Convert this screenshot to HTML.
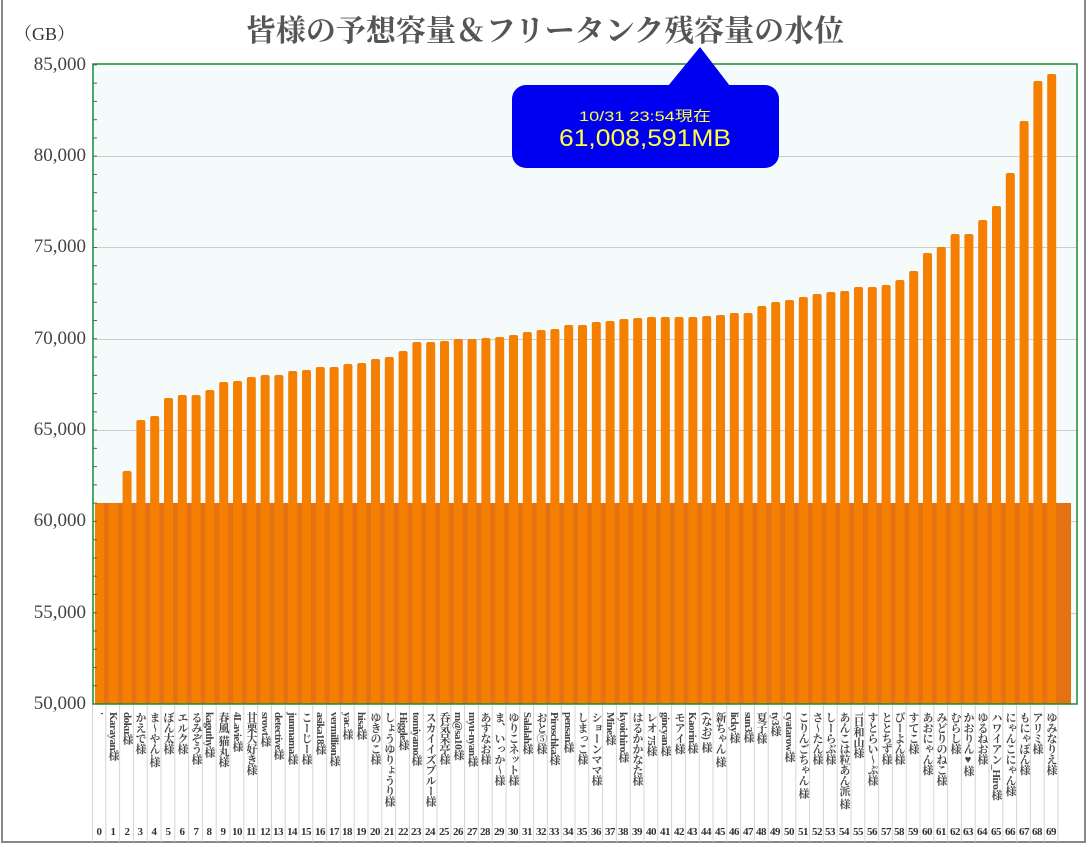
<!DOCTYPE html>
<html><head><meta charset="utf-8">
<style>
html,body{margin:0;padding:0;background:#fff;}
body{width:1090px;height:847px;position:relative;overflow:hidden;font-family:"Liberation Serif","Noto Serif CJK JP",serif;}
.frame{position:absolute;left:1px;top:-2px;width:1085px;height:845px;border:2px solid #888;box-sizing:border-box;}
.title{position:absolute;left:0;width:1090px;top:6px;text-align:center;font-size:30px;font-weight:bold;color:#555;font-family:"Liberation Serif","Noto Serif CJK JP",serif;}
.gb{position:absolute;left:14px;top:20px;font-size:18px;color:#333;}
.yl{position:absolute;right:1004px;font-size:19px;color:#444;line-height:18px;}
.lab{position:absolute;top:712px;width:14px;writing-mode:vertical-rl;text-orientation:mixed;font-size:11px;font-weight:bold;color:#444;line-height:14px;white-space:nowrap;letter-spacing:-0.5px;}
.num{position:absolute;top:826px;width:14px;text-align:center;font-size:11px;font-weight:bold;color:#333;letter-spacing:-0.5px;}
</style></head><body>
<div class="frame"></div>
<div class="title">皆様の予想容量＆フリータンク残容量の水位</div>
<div class="gb">（GB）</div>
<div class="yl" style="top:56px">85,000</div>
<div class="yl" style="top:147px">80,000</div>
<div class="yl" style="top:238px">75,000</div>
<div class="yl" style="top:330px">70,000</div>
<div class="yl" style="top:421px">65,000</div>
<div class="yl" style="top:512px">60,000</div>
<div class="yl" style="top:604px">55,000</div>
<div class="yl" style="top:695px">50,000</div>
<svg id="s" width="1090" height="847" style="position:absolute;left:0;top:0">
<rect x="93" y="64" width="984" height="640" fill="#f5fbfb"/>
<g stroke="#ccc" stroke-width="1">
<line x1="93" x2="1077" y1="156.5" y2="156.5"/><line x1="93" x2="1077" y1="247.5" y2="247.5"/>
<line x1="93" x2="1077" y1="339.5" y2="339.5"/><line x1="93" x2="1077" y1="430.5" y2="430.5"/>
<line x1="93" x2="1077" y1="521.5" y2="521.5"/><line x1="93" x2="1077" y1="613.5" y2="613.5"/>
</g>
<rect x="97" y="503" width="974" height="201" fill="#e47212"/>
<g id="bars" fill="#f57f00"></g>
<g id="seps" stroke="#d4d4d4" stroke-width="1"></g>
<rect x="93" y="64" width="984" height="640" fill="none" stroke="#1a8a3a" stroke-width="1.5"/>
<g id="ticks" stroke="#1a8a3a" stroke-width="1"></g>
<path d="M668 86 L700 47 L730 86 Z" fill="#0000f0"/>
<rect x="512" y="85" width="267" height="83" rx="14" fill="#0000f0"/>
<text x="645" y="121" text-anchor="middle" fill="#ffff40" font-family="Liberation Sans,Noto Sans CJK JP,sans-serif" font-size="14" textLength="132" lengthAdjust="spacingAndGlyphs">10/31 23:54現在</text>
<text x="645" y="146" text-anchor="middle" fill="#ffff40" font-family="Liberation Sans,sans-serif" font-size="24" textLength="172" lengthAdjust="spacingAndGlyphs">61,008,591MB</text>
</svg>
<div id="labs">
<div class="lab" style="left:92px">'</div>
<div class="lab" style="left:106px">Karayan様</div>
<div class="lab" style="left:120px">doku様</div>
<div class="lab" style="left:133px">かえで様</div>
<div class="lab" style="left:147px">ま～やん.様</div>
<div class="lab" style="left:161px">ぼん太様</div>
<div class="lab" style="left:175px">エルク様</div>
<div class="lab" style="left:189px">るみぞう様</div>
<div class="lab" style="left:202px">kaguthy様</div>
<div class="lab" style="left:216px">春風 猫丸様</div>
<div class="lab" style="left:230px">4Lavie様</div>
<div class="lab" style="left:244px">甘栗大好き様</div>
<div class="lab" style="left:258px">srowt様</div>
<div class="lab" style="left:271px">detective様</div>
<div class="lab" style="left:285px">junmama様</div>
<div class="lab" style="left:299px">こーじー様</div>
<div class="lab" style="left:313px">asika18様</div>
<div class="lab" style="left:327px">vermillion様</div>
<div class="lab" style="left:340px">yac.様</div>
<div class="lab" style="left:354px">hisa様</div>
<div class="lab" style="left:368px">ゆきのこ様</div>
<div class="lab" style="left:382px">しょうゆりょうり様</div>
<div class="lab" style="left:396px">Higgle様</div>
<div class="lab" style="left:409px">tomiyamo様</div>
<div class="lab" style="left:423px">スカイイズブルー様</div>
<div class="lab" style="left:437px">呑気呆亭様</div>
<div class="lab" style="left:451px">m@sa10様</div>
<div class="lab" style="left:465px">myu-nyan様</div>
<div class="lab" style="left:478px">あすなお様</div>
<div class="lab" style="left:492px">ま、いっか～様</div>
<div class="lab" style="left:506px">ゆりこネット様</div>
<div class="lab" style="left:520px">Salalah様</div>
<div class="lab" style="left:534px">おと⑤様</div>
<div class="lab" style="left:547px">Piroschka様</div>
<div class="lab" style="left:561px">pensan様</div>
<div class="lab" style="left:575px">しまっこ様</div>
<div class="lab" style="left:589px">ショーンママ様</div>
<div class="lab" style="left:603px">Mine様</div>
<div class="lab" style="left:616px">kyoichiro様</div>
<div class="lab" style="left:630px">はるかかなた様</div>
<div class="lab" style="left:644px">レオ 75様</div>
<div class="lab" style="left:658px">gincyan様</div>
<div class="lab" style="left:672px">モアイ様</div>
<div class="lab" style="left:685px">Kaorin様</div>
<div class="lab" style="left:699px">(なお) 様</div>
<div class="lab" style="left:713px">新ちゃん 様</div>
<div class="lab" style="left:727px">licky様</div>
<div class="lab" style="left:741px">sun3様</div>
<div class="lab" style="left:754px">夏子様</div>
<div class="lab" style="left:768px">ty3様</div>
<div class="lab" style="left:782px">cyatarow様</div>
<div class="lab" style="left:796px">こりんごちゃん 様</div>
<div class="lab" style="left:810px">さ～たん様</div>
<div class="lab" style="left:823px">しーらぶ様</div>
<div class="lab" style="left:837px">あんこは粒あん派 様</div>
<div class="lab" style="left:851px">˥日和山様</div>
<div class="lab" style="left:865px">すとらい～ぷ様</div>
<div class="lab" style="left:879px">ととちず様</div>
<div class="lab" style="left:892px">ぴーよん様</div>
<div class="lab" style="left:906px">すてこ様</div>
<div class="lab" style="left:920px">あおにゃん様</div>
<div class="lab" style="left:934px">みどりのねこ様</div>
<div class="lab" style="left:948px">むらし様</div>
<div class="lab" style="left:961px">かおりん♥様</div>
<div class="lab" style="left:975px">ゆるねお様</div>
<div class="lab" style="left:989px">ハワイアン_Hiro様</div>
<div class="lab" style="left:1003px">にゃんこにゃん様</div>
<div class="lab" style="left:1017px">もにゃぽん様</div>
<div class="lab" style="left:1030px">アリミ様</div>
<div class="lab" style="left:1044px">ゆみなりえ様</div>
</div>
<div id="nums">
<div class="num" style="left:92px">0</div><div class="num" style="left:106px">1</div><div class="num" style="left:120px">2</div><div class="num" style="left:133px">3</div><div class="num" style="left:147px">4</div><div class="num" style="left:161px">5</div><div class="num" style="left:175px">6</div><div class="num" style="left:189px">7</div><div class="num" style="left:202px">8</div><div class="num" style="left:216px">9</div>
<div class="num" style="left:230px">10</div><div class="num" style="left:244px">11</div><div class="num" style="left:258px">12</div><div class="num" style="left:271px">13</div><div class="num" style="left:285px">14</div><div class="num" style="left:299px">15</div><div class="num" style="left:313px">16</div><div class="num" style="left:327px">17</div><div class="num" style="left:340px">18</div><div class="num" style="left:354px">19</div>
<div class="num" style="left:368px">20</div><div class="num" style="left:382px">21</div><div class="num" style="left:396px">22</div><div class="num" style="left:409px">23</div><div class="num" style="left:423px">24</div><div class="num" style="left:437px">25</div><div class="num" style="left:451px">26</div><div class="num" style="left:465px">27</div><div class="num" style="left:478px">28</div><div class="num" style="left:492px">29</div>
<div class="num" style="left:506px">30</div><div class="num" style="left:520px">31</div><div class="num" style="left:534px">32</div><div class="num" style="left:547px">33</div><div class="num" style="left:561px">34</div><div class="num" style="left:575px">35</div><div class="num" style="left:589px">36</div><div class="num" style="left:603px">37</div><div class="num" style="left:616px">38</div><div class="num" style="left:630px">39</div>
<div class="num" style="left:644px">40</div><div class="num" style="left:658px">41</div><div class="num" style="left:672px">42</div><div class="num" style="left:685px">43</div><div class="num" style="left:699px">44</div><div class="num" style="left:713px">45</div><div class="num" style="left:727px">46</div><div class="num" style="left:741px">47</div><div class="num" style="left:754px">48</div><div class="num" style="left:768px">49</div>
<div class="num" style="left:782px">50</div><div class="num" style="left:796px">51</div><div class="num" style="left:810px">52</div><div class="num" style="left:823px">53</div><div class="num" style="left:837px">54</div><div class="num" style="left:851px">55</div><div class="num" style="left:865px">56</div><div class="num" style="left:879px">57</div><div class="num" style="left:892px">58</div><div class="num" style="left:906px">59</div>
<div class="num" style="left:920px">60</div><div class="num" style="left:934px">61</div><div class="num" style="left:948px">62</div><div class="num" style="left:961px">63</div><div class="num" style="left:975px">64</div><div class="num" style="left:989px">65</div><div class="num" style="left:1003px">66</div><div class="num" style="left:1017px">67</div><div class="num" style="left:1030px">68</div><div class="num" style="left:1044px">69</div>
</div>
<script>
var tops=[503,503,471,420,416,398,395,395,390,382,381,377,375,375,371,370,367,367,364,363,359,357,351,342,342,341,339,339,338,337,335,332,330,329,325,325,322,321,319,318,317,317,317,317,316,315,313,313,306,302,300,297,294,292,291,287,287,285,280,271,253,247,234,234,220,206,173,121,81,74];
var NS="http://www.w3.org/2000/svg";
var b=document.getElementById('bars'),s=document.getElementById('seps'),t=document.getElementById('ticks');
for(var i=0;i<70;i++){
 var x=92+13.8*i;
 var r=document.createElementNS(NS,'rect');
 r.setAttribute('x',x+3);r.setAttribute('width',9);r.setAttribute('y',tops[i]);r.setAttribute('height',704-tops[i]);
 r.setAttribute('rx',2);b.appendChild(r);
 var l=document.createElementNS(NS,'line');
 l.setAttribute('x1',x+13.8);l.setAttribute('x2',x+13.8);l.setAttribute('y1',705);l.setAttribute('y2',842);s.appendChild(l);
}
var l0=document.createElementNS(NS,'line');l0.setAttribute('x1',92.5);l0.setAttribute('x2',92.5);l0.setAttribute('y1',705);l0.setAttribute('y2',842);s.appendChild(l0);
for(var k=0;k<=35;k++){
 var y=704-k*18.26;
 var m=document.createElementNS(NS,'line');
 m.setAttribute('x1',93);m.setAttribute('x2',97);m.setAttribute('y1',y);m.setAttribute('y2',y);t.appendChild(m);
}
</script>
</body></html>
